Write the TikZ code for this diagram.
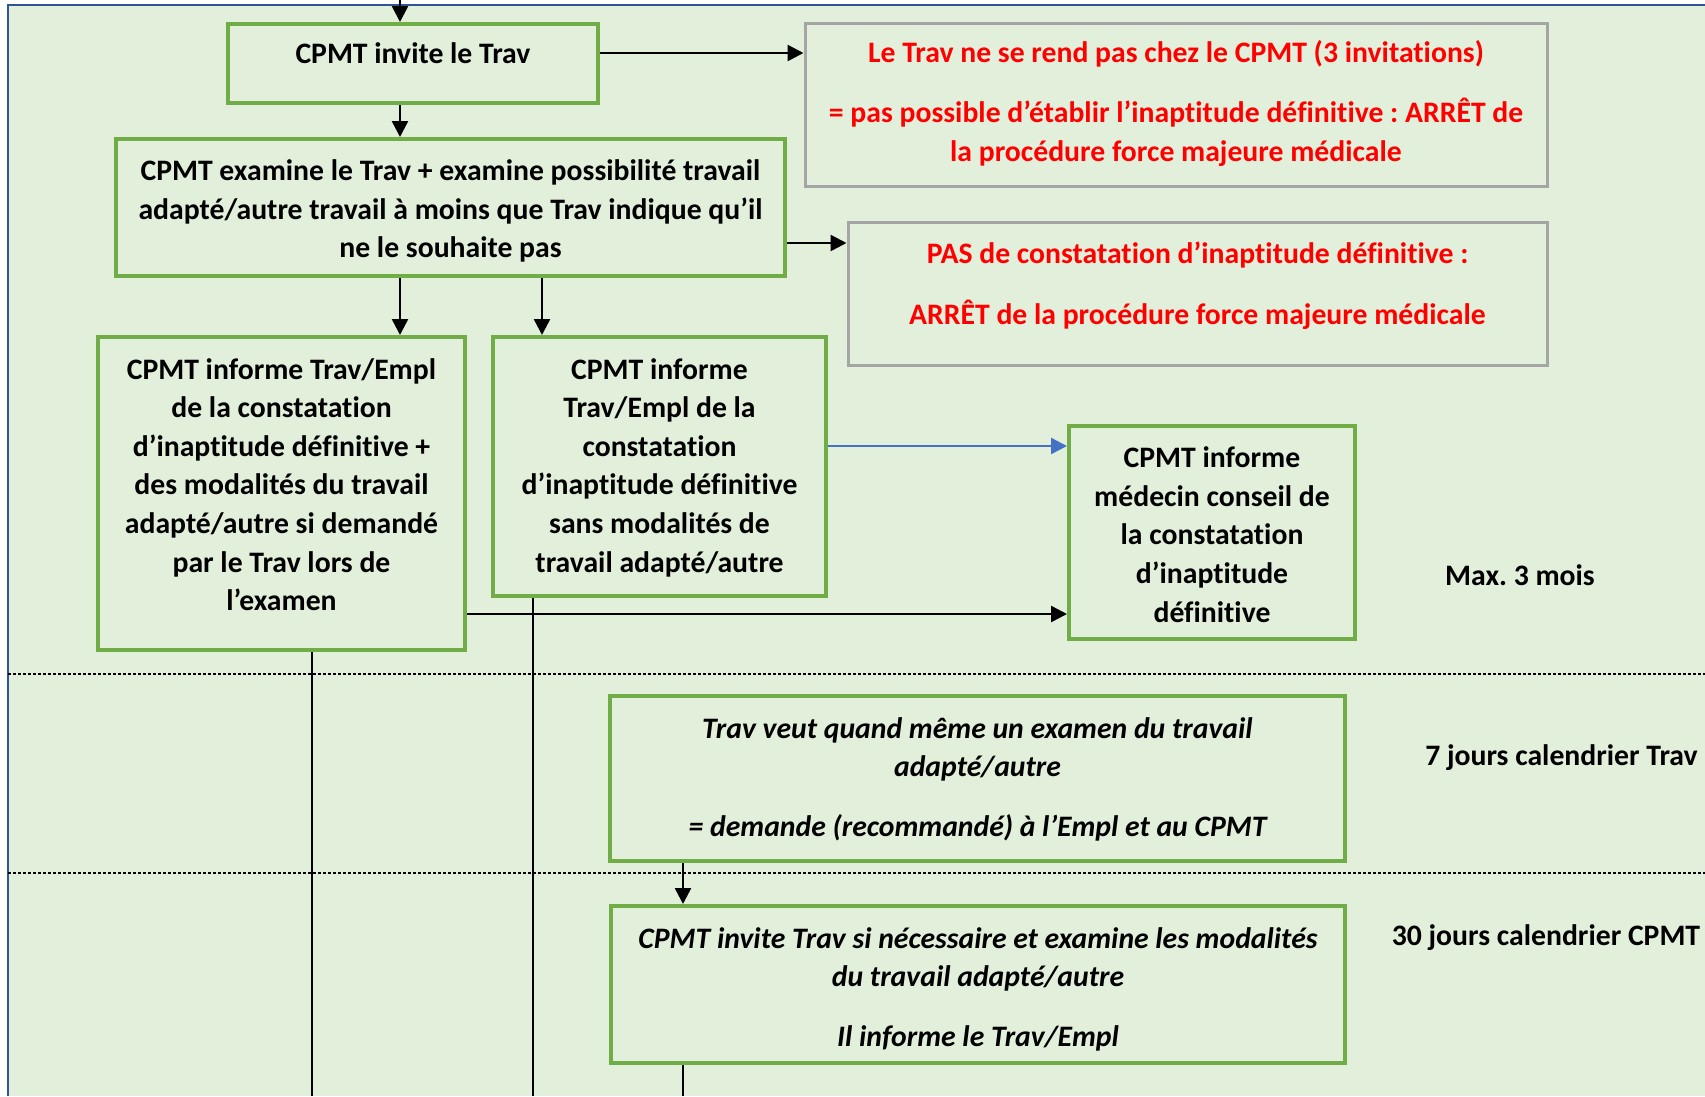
\documentclass[tikz,border=0pt]{standalone}
\usepackage{fontspec}
\setmainfont{Carlito}[Ligatures={NoCommon}]
\frenchspacing
\usetikzlibrary{arrows.meta,calc}
\definecolor{bgc}{HTML}{E2EFDA}
\definecolor{gbord}{HTML}{70AD47}
\definecolor{grbord}{HTML}{A5A5A5}
\definecolor{frameblue}{HTML}{2F5597}
\definecolor{arrblue}{HTML}{4472C4}
\definecolor{redtxt}{HTML}{FF0000}
\begin{document}
\begin{tikzpicture}[x=1pt,y=-1pt,
  gbox/.style={draw=gbord, line width=4pt, rectangle, inner sep=0pt},
  greybox/.style={draw=grbord, line width=3pt, rectangle, inner sep=0pt},
  txt/.style={font=\fontsize{29.7}{38.6}\selectfont\bfseries\frenchspacing, align=center, inner sep=0pt},
  itxt/.style={font=\fontsize{29.7}{38.6}\selectfont\bfseries\itshape\frenchspacing, align=center, inner sep=0pt},
  rtxt/.style={txt, text=redtxt},
  arr/.style={line width=2.5pt, -{Triangle[length=16pt,width=16pt]}},
  ln/.style={line width=2.5pt},
  sep/.style={line width=1.3pt, dash pattern=on 3pt off 2pt}
]
\useasboundingbox (0,0) rectangle (1705,1096);
% background frame
\fill[bgc] (8,5) rectangle (1705,1096);
\draw[frameblue, line width=2.5pt] (8,1096) -- (8,5) -- (1705,5);
% separators
\coordinate (d1l) at (8,674); \coordinate (d1r) at (1705,674);
\coordinate (d2l) at (8,873); \coordinate (d2r) at (1705,873);
\draw[sep] (d1l) -- (d1r);
\draw[sep] (d2l) -- (d2r);
% boxes
\node[gbox, minimum width=370pt, minimum height=79pt] (b1) at (413,63.5) {};
\node[gbox, minimum width=669pt, minimum height=137pt] (b2) at (450.5,207.5) {};
\node[greybox, minimum width=742pt, minimum height=163pt] (gA) at (1176,104.5) {};
\node[greybox, minimum width=699pt, minimum height=143pt] (gB) at (1197.5,293.5) {};
\node[gbox, minimum width=367pt, minimum height=313pt] (b3) at (281.5,493.5) {};
\node[gbox, minimum width=333pt, minimum height=259pt] (b4) at (659.5,466.5) {};
\node[gbox, minimum width=286pt, minimum height=213pt] (b5) at (1212,532.5) {};
\node[gbox, minimum width=735pt, minimum height=165pt] (b6) at (977.5,778.5) {};
\node[gbox, minimum width=734pt, minimum height=157pt] (b7) at (978,984.5) {};
% texts
\node[txt] (t1) at (413,53) {CPMT invite le Trav};
\node[txt] (t2) at (450.5,211) {CPMT examine le Trav + examine possibilité travail\\adapté/autre travail à moins que Trav indique qu’il\\ne le souhaite pas};
\node[rtxt] (tA) at (1176,103.5) {Le Trav ne se rend pas chez le CPMT (3 invitations)\\[21.4pt]= pas possible d’établir l’inaptitude définitive : ARRÊT de\\la procédure force majeure médicale};
\node[rtxt] (tB) at (1197.5,285.5) {PAS de constatation d’inaptitude définitive :\\[22pt]ARRÊT de la procédure force majeure médicale};
\node[txt] (t3) at (281.5,484.5) {CPMT informe Trav/Empl\\de la constatation\\d’inaptitude définitive +\\des modalités du travail\\adapté/autre si demandé\\par le Trav lors de\\l’examen};
\node[txt] (t4) at (659.5,467.5) {CPMT informe\\Trav/Empl de la\\constatation\\d’inaptitude définitive\\sans modalités de\\travail adapté/autre};
\node[txt] (t5) at (1212,534.5) {CPMT informe\\médecin conseil de\\la constatation\\d’inaptitude\\définitive};
\node[itxt] (t6) at (977.5,779.5) {Trav veut quand même un examen du travail\\adapté/autre\\[21.4pt]= demande (recommandé) à l’Empl et au CPMT};
\node[itxt] (t7) at (978,989.5) {CPMT invite Trav si nécessaire et examine les modalités\\du travail adapté/autre\\[21.4pt]Il informe le Trav/Empl};
\node[txt] (m3) at (1520,575) {Max. 3 mois};
\node[txt] (j7) at (1561.5,758) {7 jours calendrier Trav};
\node[txt] (j30) at (1546,938) {30 jours calendrier CPMT};
% connectors
\coordinate (top) at (400,0);
\coordinate (x4) at (542,0);
\coordinate (x6) at (683,0);
\coordinate (y2) at (0,243);
\coordinate (yb) at (0,446);
\coordinate (yk) at (0,614);
\draw[arr] (top) -- (top |- b1.north);
\draw[arr] (b1.south -| top) -- (b2.north -| top);
\draw[arr] (b1.east |- t1) -- (gA.west |- t1);
\draw[arr] (b2.east |- y2) -- (gB.west |- y2);
\draw[arr] (b2.south -| top) -- (b3.north -| top);
\draw[arr] (b2.south -| x4) -- (b4.north -| x4);
\draw[arr, draw=arrblue] (b4.east |- yb) -- (b5.west |- yb);
\draw[arr] (b3.east |- yk) -- (b5.west |- yk);
\draw[arr] (b6.south -| x6) -- (b7.north -| x6);
\coordinate (e3) at (312,1096);
\coordinate (e4) at (533,1096);
\coordinate (e7) at (683,1096);
\draw[ln] (b3.south -| e3) -- (e3);
\draw[ln] (b4.south -| e4) -- (e4);
\draw[ln] (b7.south -| e7) -- (e7);
\end{tikzpicture}
\end{document}
